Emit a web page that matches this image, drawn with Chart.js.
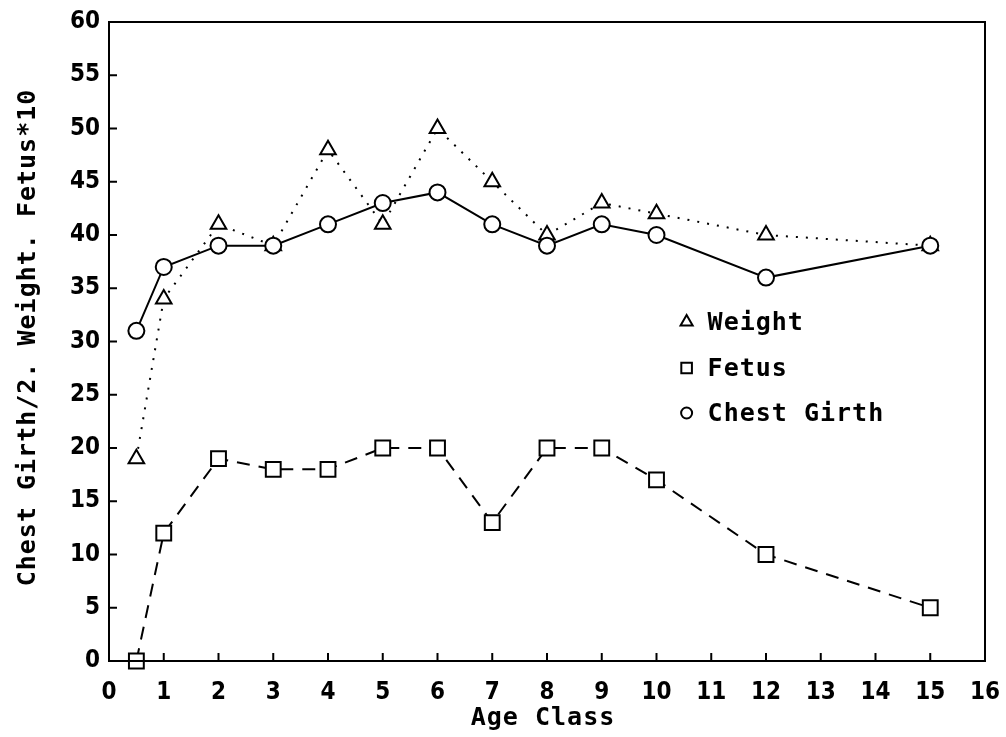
<!DOCTYPE html>
<html>
<head>
<meta charset="utf-8">
<script src="https://cdn.jsdelivr.net/npm/chart.js@4/dist/chart.umd.min.js"></script>
<style>
  html, body { margin: 0; padding: 0; background: #fff; }
  #wrap { width: 1006px; height: 737px; }
</style>
</head>
<body>
<div id="wrap"><canvas id="c"></canvas></div>
<script>
// age classes and the three series
const ageClass   = [0.5, 1, 2, 3, 4, 5, 6, 7, 8, 9, 10, 12, 15];
const weight     = [19, 34, 41, 39, 48, 41, 50, 45, 40, 43, 42, 40, 39];
const fetus      = [0, 12, 19, 18, 18, 20, 20, 13, 20, 20, 17, 10, 5];
const chestGirth = [31, 37, 39, 39, 41, 43, 44, 41, 39, 41, 40, 36, 39];

const xTicks = [0, 1, 2, 3, 4, 5, 6, 7, 8, 9, 10, 11, 12, 13, 14, 15, 16];
const yTicks = [0, 5, 10, 15, 20, 25, 30, 35, 40, 45, 50, 55, 60];

const xTitle = 'Age Class';
const yTitle = 'Chest Girth/2. Weight. Fetus*10';

const fnt = "'DejaVu Sans Condensed', 'DejaVu Sans', sans-serif";
const mono = "'DejaVu Sans Mono', monospace";

const toPts = (vals) => ageClass.map((a, i) => ({ x: a, y: vals[i] }));

// box frame, inward ticks, axis titles and the little legend in the middle
const framePlugin = {
  id: 'frame',
  afterDraw(chart) {
    const { ctx, chartArea: a, scales } = chart;
    ctx.save();
    ctx.strokeStyle = '#000';
    ctx.lineWidth = 2;
    ctx.strokeRect(a.left, a.top, a.right - a.left, a.bottom - a.top);
    ctx.beginPath();
    yTicks.forEach(v => {
      let y = scales.y.getPixelForValue(v);
      ctx.moveTo(a.left, y); ctx.lineTo(a.left + 8, y);
    });
    xTicks.forEach(v => {
      let x = scales.x.getPixelForValue(v);
      ctx.moveTo(x, a.bottom); ctx.lineTo(x, a.bottom - 8);
    });
    ctx.stroke();

    // axis titles (spaced like the plotter lettering)
    ctx.fillStyle = '#000';
    ctx.font = 'bold 25px ' + mono;
    ctx.letterSpacing = '1px';
    ctx.textAlign = 'center';
    ctx.textBaseline = 'middle';
    ctx.fillText(xTitle, (a.left + a.right) / 2 - 4, 718);
    ctx.save();
    ctx.translate(28, (a.top + a.bottom) / 2 - 4);
    ctx.rotate(-Math.PI / 2);
    ctx.fillText(yTitle, 0, 0);
    ctx.restore();

    // legend
    let lx = scales.x.getPixelForValue(10.55),
        rows = [['Weight', 'triangle', 7], ['Fetus', 'rect', 7.5], ['Chest Girth', 'circle', 5.5]],
        ys = [322, 368, 413];
    ctx.textAlign = 'left';
    ctx.font = 'bold 25px ' + mono;
    rows.forEach((r, i) => {
      ctx.lineWidth = 2;
      ctx.fillStyle = '#fff';
      ctx.strokeStyle = '#000';
      Chart.helpers.drawPoint(ctx, { pointStyle: r[1], radius: r[2], rotation: 0, borderWidth: 2 }, lx, ys[i]);
      ctx.fillStyle = '#000';
      ctx.fillText(r[0], lx + 21, ys[i] + 1);
    });
    ctx.restore();
  }
};

const dsStyle = (style, dash, radius, order) => ({
  borderColor: '#000',
  backgroundColor: '#fff',
  pointBackgroundColor: '#fff',
  pointBorderColor: '#000',
  pointBorderWidth: 2,
  pointStyle: style,
  pointRadius: radius,
  borderWidth: 2,
  borderDash: dash,
  tension: 0,
  fill: false,
  clip: false,
  order: order
});

new Chart(document.getElementById('c'), {
  type: 'line',
  data: {
    datasets: [
      Object.assign({ label: 'Weight', data: toPts(weight) }, dsStyle('triangle', [2, 8], 9, 1)),
      Object.assign({ label: 'Fetus', data: toPts(fetus) }, dsStyle('rect', [13, 9], 10.5, 2)),
      Object.assign({ label: 'Chest Girth', data: toPts(chestGirth) }, dsStyle('circle', [], 8, 0))
    ]
  },
  options: {
    responsive: true,
    maintainAspectRatio: false,
    animation: false,
    layout: { padding: { top: 22, right: 21, left: 0, bottom: 0 } },
    plugins: { legend: { display: false }, tooltip: { enabled: false } },
    scales: {
      x: {
        type: 'linear', min: 0, max: 16,
        afterBuildTicks: s => { s.ticks = xTicks.map(v => ({ value: v })); },
        afterFit: s => { s.height = 76; s.paddingLeft = 0; s.paddingRight = 0; },
        grid: { display: false, drawTicks: false },
        border: { display: false },
        ticks: { color: '#000', padding: 17, font: { family: fnt, size: 24, weight: 'bold' } }
      },
      y: {
        min: 0, max: 60,
        afterBuildTicks: s => { s.ticks = yTicks.map(v => ({ value: v })); },
        afterFit: s => { s.width = 109; s.paddingTop = 0; s.paddingBottom = 0; },
        grid: { display: false, drawTicks: false },
        border: { display: false },
        ticks: { color: '#000', padding: 9, font: { family: fnt, size: 24, weight: 'bold' } }
      }
    }
  },
  plugins: [framePlugin]
});
</script>
</body>
</html>
